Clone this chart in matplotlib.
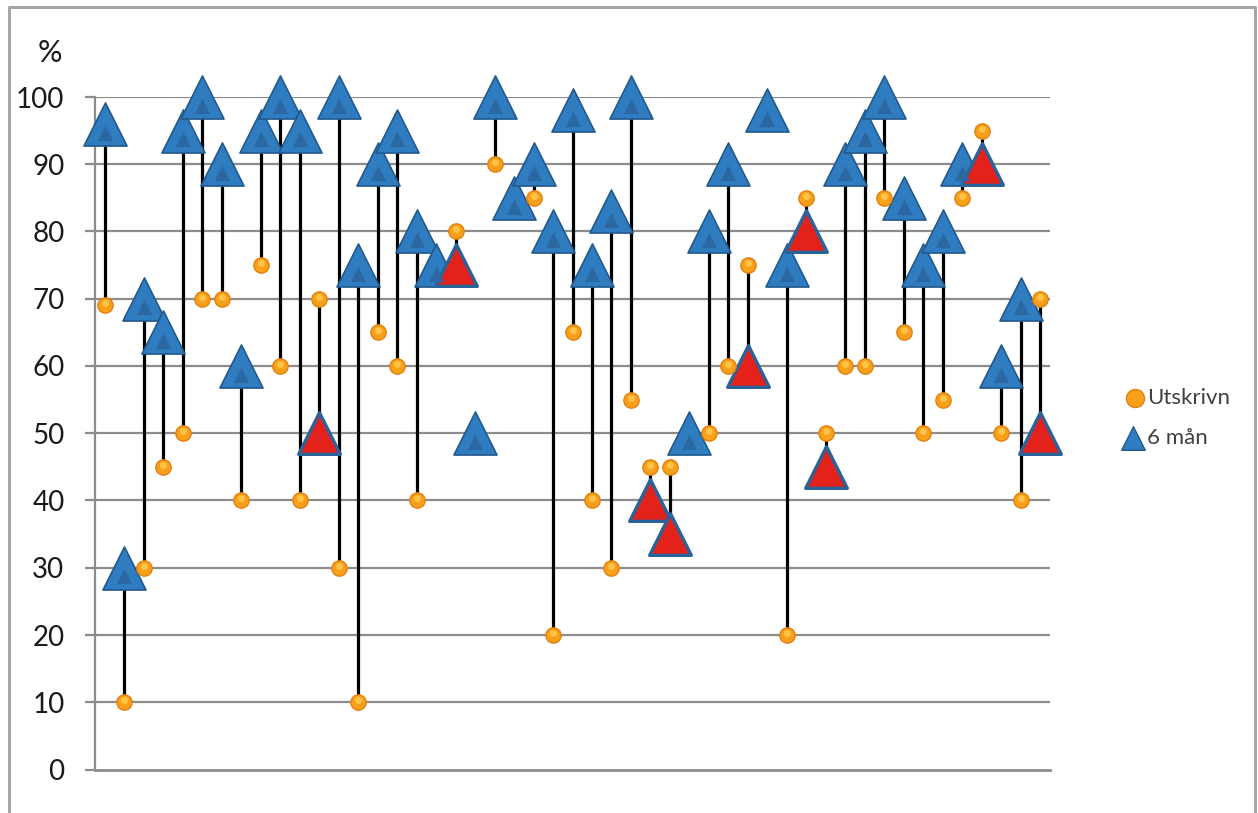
import numpy as np
import matplotlib.pyplot as plt
from matplotlib.path import Path
from matplotlib.lines import Line2D

plt.rcParams['font.family'] = ['Lato', 'DejaVu Sans']

# värden (None = ingen punkt)
utskrivn = [69, 10, 30, 45, 50, 70, 70, 40, 75, 60, 40, 70, 30, 10, 65, 60, 40,
            None, 80, None, 90, None, 85, 20, 65, 40, 30, 55, 45, 45, None, 50,
            60, 75, None, 20, 85, 50, 60, 60, 85, 65, 50, 55, 85, 95, 50, 40, 70]
man6 = [96, 30, 70, 65, 95, 100, 90, 60, 95, 100, 95, 50, 100, 75, 90, 95, 80,
        75, 75, 50, 100, 85, 90, 80, 98, 75, 83, 100, 40, 35, 50, 80,
        90, 60, 98, 75, 80, 45, 90, 95, 100, 85, 75, 80, 90, 90, 60, 70, 50]
yticks = [0, 10, 20, 30, 40, 50, 60, 70, 80, 90, 100]

ut = np.array([np.nan if v is None else v for v in utskrivn], dtype=float)
m6 = np.array(man6, dtype=float)
x = np.arange(len(m6))

# triangel med lika bredd och höjd
tri = Path([(0, 1), (-1, -1), (1, -1), (0, 1)],
           [Path.MOVETO, Path.LINETO, Path.LINETO, Path.CLOSEPOLY])

fig = plt.figure(figsize=(12.58, 8.13), dpi=100)
ax = fig.add_axes([95 / 1258, 43.5 / 813, 955 / 1258, 672.5 / 813])

grid_col = '#8c8c8c'
ax.set_xlim(-0.5, len(m6) - 0.5)
ax.set_ylim(0, 100)
ax.set_yticks(yticks)
ax.set_yticklabels([str(t) for t in yticks], fontsize=20, color='#1a1a1a')
ax.set_xticks([])
ax.tick_params(axis='y', length=7, width=1.6, color=grid_col, pad=15)
for t in yticks[1:]:
    ax.axhline(t, color=grid_col, lw=1.6, zorder=1)
for s in ['top', 'right']:
    ax.spines[s].set_visible(False)
ax.spines['left'].set_color(grid_col)
ax.spines['left'].set_linewidth(1.6)
ax.spines['bottom'].set_color(grid_col)
ax.spines['bottom'].set_linewidth(2)

# hög-låg-linjer
has = ~np.isnan(ut)
ax.vlines(x[has], np.minimum(ut, m6)[has], np.maximum(ut, m6)[has],
          color='black', lw=2.3, zorder=2)

# 6 mån: blå om förbättrad, röd om försämrad
worse = has & (m6 < ut)
better = ~worse
ax.plot(x[better], m6[better], ls='none', marker=tri, ms=31, mfc='#2F7DC0',
        mec='#22598C', mew=1.2, zorder=3, clip_on=False)
ax.plot(x[better], m6[better] - 1.3, ls='none', marker=tri, ms=11, mfc='#2B68A2',
        mec='none', zorder=3.1, clip_on=False)
ax.plot(x[worse], m6[worse], ls='none', marker=tri, ms=30, mfc='#E3221C',
        mec='#2A6399', mew=2.4, zorder=3, clip_on=False)

# Utskrivn
ax.plot(x[has], ut[has], ls='none', marker='o', ms=11, mfc='#F6A01C',
        mec='#E5800C', mew=1.0, zorder=4, clip_on=False)
ax.plot(x[has], ut[has] + 0.3, ls='none', marker='o', ms=5, mfc='#FFC445',
        mec='none', zorder=4.1, clip_on=False)

fig.text(50 / 1258, 1 - 53 / 813, '%', fontsize=22, color='#1a1a1a',
         ha='center', va='center')

# förklaring
fy1 = 1 - 398 / 813
fy2 = 1 - 438 / 813
fig.add_artist(Line2D([1135 / 1258], [fy1], marker='o', ms=13, mfc='#F6A01C',
                      mec='#E5800C', mew=1.0, transform=fig.transFigure))
fig.add_artist(Line2D([1133 / 1258], [fy2], marker=tri, ms=17, mfc='#2F7DC0',
                      mec='#22598C', mew=1.0, transform=fig.transFigure))
fig.text(1147 / 1258, fy1, 'Utskrivn', fontsize=16, color='#404040', va='center')
fig.text(1147 / 1258, fy2, '6 mån', fontsize=16, color='#404040', va='center')

# ram runt diagramytan
frame_col = '#a6a6a6'
fx0, fx1, fy_top = 9 / 1258, 1255 / 1258, 1 - 7 / 813
fig.add_artist(Line2D([fx0, fx0, fx1, fx1], [0, fy_top, fy_top, 0],
                      color=frame_col, lw=2.2, transform=fig.transFigure))

fig.savefig('out.png', dpi=100)
